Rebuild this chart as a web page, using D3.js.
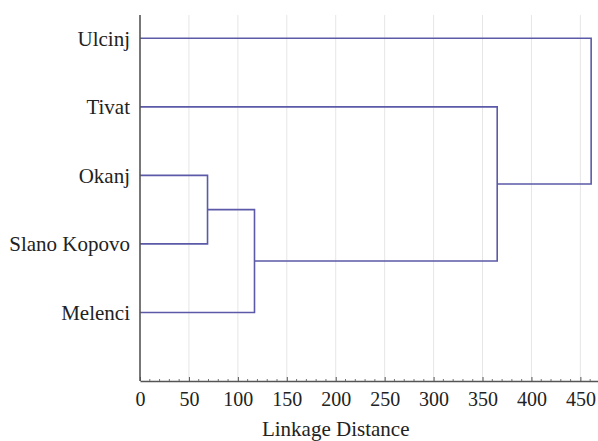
<!DOCTYPE html>
<html>
<head>
<meta charset="utf-8">
<script src="https://cdn.jsdelivr.net/npm/d3@7"></script>
<style>
  html, body { margin: 0; padding: 0; background: #fff; }
  svg { display: block; }
</style>
</head>
<body>
<svg id="chart" width="598" height="441"></svg>
<script>
  const leaves = ["Ulcinj", "Tivat", "Okanj", "Slano Kopovo", "Melenci"];
  // each merge: [child A, child B, linkage distance]; "mN" refers to merge N
  const merges = [
    ["Okanj", "Slano Kopovo", 69],
    ["m0", "Melenci", 117],
    ["Tivat", "m1", 365],
    ["Ulcinj", "m2", 461]
  ];
  const xTicks = [0, 50, 100, 150, 200, 250, 300, 350, 400, 450];

  const svg = d3.select("#chart");
  const margin = { top: 15, right: 0, bottom: 60, left: 140 };
  const width = +svg.attr("width");
  const height = +svg.attr("height");
  const innerW = width - margin.left - margin.right;
  const innerH = height - margin.top - margin.bottom;
  const lineColor = "#5c5aa8";
  const font = "'Liberation Serif', 'Times New Roman', serif";

  const x = d3.scaleLinear().domain([0, 468]).range([0, innerW]);
  const y = d3.scaleLinear().domain([-0.34, leaves.length]).range([0, innerH]);

  const g = svg.append("g").attr("transform", `translate(${margin.left},${margin.top})`);

  // vertical grid
  g.append("g")
    .selectAll("line")
    .data(xTicks.filter((t) => t > 0))
    .enter()
    .append("line")
    .attr("x1", (d) => x(d))
    .attr("x2", (d) => x(d))
    .attr("y1", 0)
    .attr("y2", innerH)
    .attr("stroke", "#e6e6e6")
    .attr("stroke-width", 1);

  // node positions
  const nodes = {};
  leaves.forEach((name, i) => { nodes[name] = { y: y(i), d: 0 }; });

  const tree = g.append("g")
    .attr("fill", "none")
    .attr("stroke", lineColor)
    .attr("stroke-width", 1.6);

  merges.forEach(([a, b, dist], i) => {
    const na = nodes[a];
    const nb = nodes[b];
    const xd = x(dist);
    tree.append("path")
      .attr("d", `M${x(na.d)},${na.y}H${xd}V${nb.y}H${x(nb.d)}`);
    nodes["m" + i] = { y: (na.y + nb.y) / 2, d: dist };
  });

  // leaf labels
  g.append("g")
    .selectAll("text")
    .data(leaves)
    .enter()
    .append("text")
    .attr("x", -10)
    .attr("y", (d, i) => y(i))
    .attr("dy", "0.35em")
    .attr("text-anchor", "end")
    .style("font-family", font)
    .style("font-size", "21px")
    .style("fill", "#222")
    .text((d) => d);

  // minor ticks
  const minor = d3.range(0, 461, 10).filter((t) => t % 50 !== 0);
  g.append("g")
    .selectAll("line")
    .data(minor)
    .enter()
    .append("line")
    .attr("x1", (d) => x(d))
    .attr("x2", (d) => x(d))
    .attr("y1", innerH)
    .attr("y2", innerH - 2)
    .attr("stroke", "#777");

  const xAxis = g.append("g")
    .attr("transform", `translate(0,${innerH})`)
    .call(d3.axisBottom(x).tickValues(xTicks).tickSizeInner(-4).tickSizeOuter(0).tickPadding(11));
  xAxis.select(".domain").attr("stroke", "#555").attr("stroke-width", 1.6);
  xAxis.selectAll(".tick line").attr("stroke", "#555");
  xAxis.selectAll("text")
    .style("font-family", font)
    .style("font-size", "20px")
    .style("fill", "#222");

  // y axis line
  g.append("line")
    .attr("x1", 0)
    .attr("x2", 0)
    .attr("y1", 0)
    .attr("y2", innerH)
    .attr("stroke", "#555")
    .attr("stroke-width", 1.6);

  g.append("text")
    .attr("x", x(200))
    .attr("y", innerH + 55)
    .attr("text-anchor", "middle")
    .style("font-family", font)
    .style("font-size", "21px")
    .style("fill", "#222")
    .text("Linkage Distance");
</script>
</body>
</html>
